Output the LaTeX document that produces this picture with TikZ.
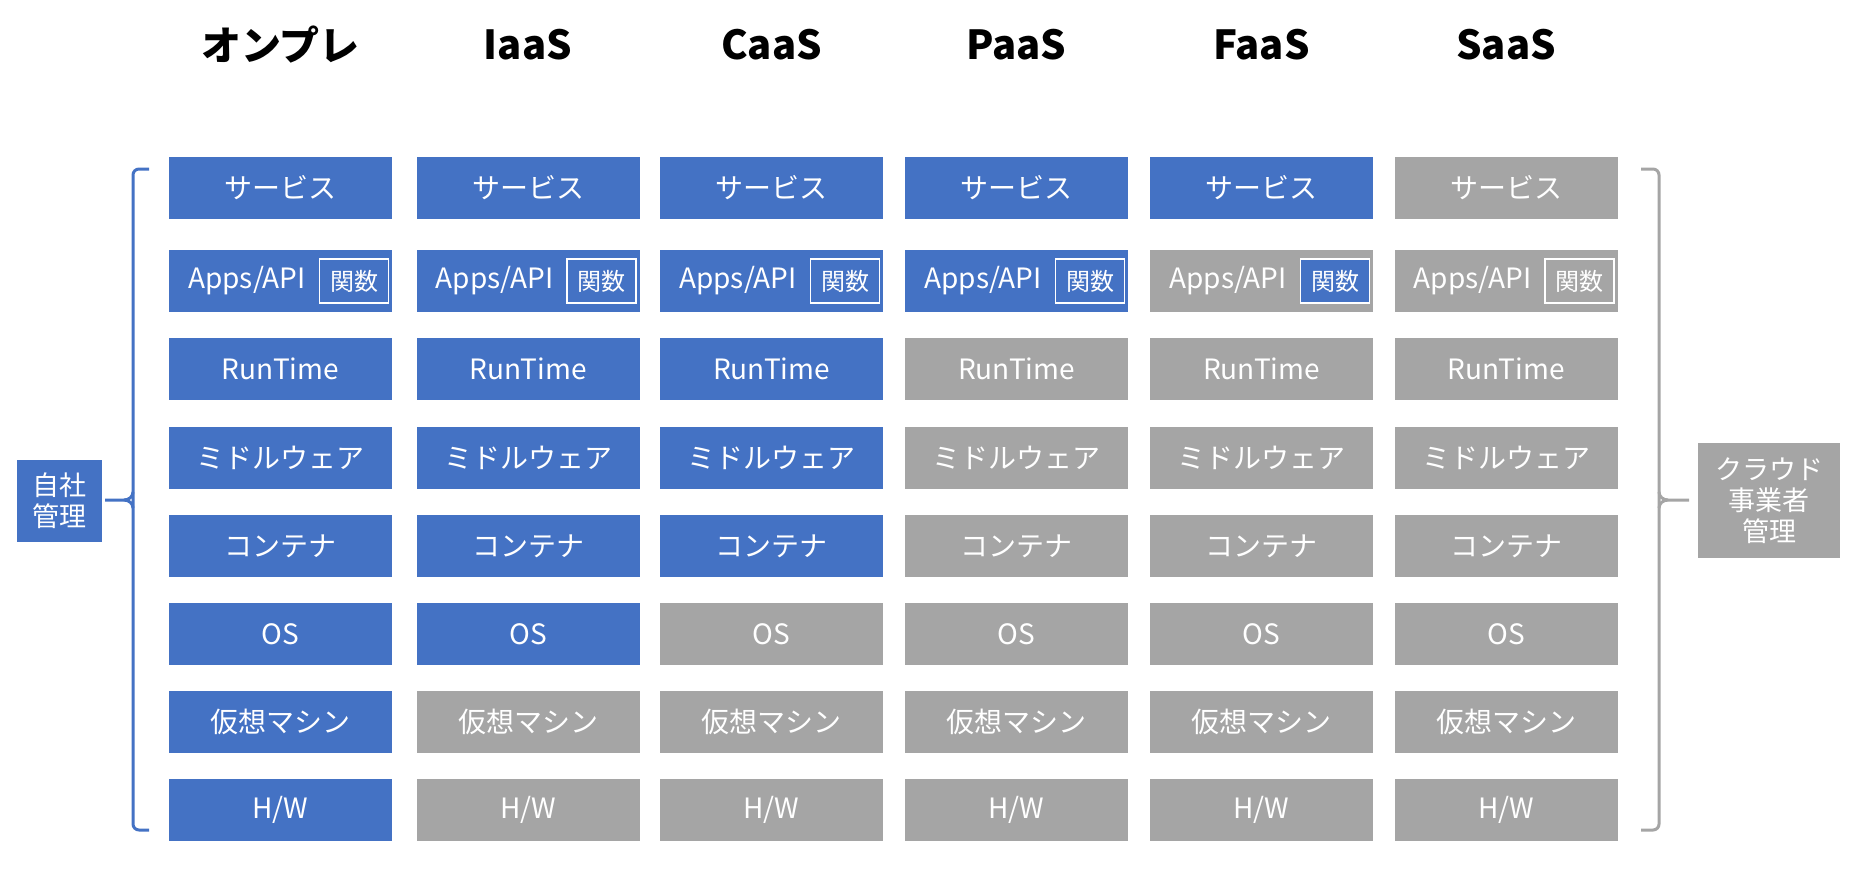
\documentclass[tikz,border=0pt]{standalone}
\usepackage{fontspec}
\setmainfont{Noto Sans CJK JP}
\definecolor{ublue}{HTML}{4472C4}
\definecolor{ugray}{HTML}{A5A5A5}
\begin{document}
\begin{tikzpicture}[x=0.5pt,y=-0.5pt,
  cell/.style={minimum width=111.5pt,minimum height=31pt,inner sep=0pt,text=white,font=\fontsize{14pt}{16pt}\selectfont},
  fnbox/.style={draw=white,line width=0.8pt,minimum width=34.5pt,minimum height=22pt,inner sep=0pt,text=white,font=\fontsize{12pt}{14pt}\selectfont},
  apitext/.style={inner sep=0pt,text=white,font=\fontsize{14pt}{16pt}\selectfont},
  head/.style={inner sep=0pt,font=\fontsize{20pt}{24pt}\selectfont\bfseries},
  side/.style={inner sep=0pt,text=white,align=center,font=\fontsize{13.5pt}{15.5pt}\selectfont},
  brace/.style={line width=1.5pt,rounded corners=3pt}]
\useasboundingbox (0,0) rectangle (1855,868);
% headers
\foreach \t/\x [count=\c] in {オンプレ/280.5,IaaS/528,CaaS/771.5,PaaS/1016.5,FaaS/1261.5,SaaS/1506}{
  \node[head] (h\c) at (\x,45) {\t};
}
% cells
\foreach \n/\x [count=\c] in {8/280.5,6/528,5/771.5,2/1016.5,1/1261.5,0/1506}{
  \foreach \t/\y [count=\r] in {サービス/188,{}/281,RunTime/369,ミドルウェア/458,コンテナ/546,OS/634,仮想マシン/722,{H/W}/810}{
    \ifnum\r>\n \def\col{ugray}\else\def\col{ublue}\fi
    \node[cell,fill=\col] (b\c-\r) at (\x,\y) {\t};
  }
}
% Apps/API row details
\foreach \x [count=\c] in {280.5,528,771.5,1016.5,1261.5,1506}{
  \ifnum\c<6 \def\fcol{ublue}\else\def\fcol{ugray}\fi
  \node[apitext] (api\c) at (\x-33.5,281) {Apps/API};
  \node[fnbox,fill=\fcol] (fn\c) at (\x+73.5,281) {関数};
}
% side labels
\node[side,fill=ublue,minimum width=42.5pt,minimum height=41pt] (L) at (59.5,501) {自社\\管理};
\node[side,fill=ugray,minimum width=71pt,minimum height=57.5pt] (R) at (1769,500.5) {クラウド\\事業者\\管理};
% left brace
\coordinate (ltip) at (105,500);
\draw[brace,ublue] (149,169) -- (133,169) -- (133,830) -- (149,830);
\draw[line width=1.5pt,ublue] (ltip) -- (124,500) to[out=0,in=-90] (133,492);
\draw[line width=1.5pt,ublue] (124,500) to[out=0,in=90] (133,508);
% right brace
\coordinate (rtip) at (1689,500);
\draw[brace,ugray] (1641,169) -- (1659,169) -- (1659,830) -- (1641,830);
\draw[line width=1.5pt,ugray] (rtip) -- (1668,500) to[out=180,in=-90] (1659,492);
\draw[line width=1.5pt,ugray] (1668,500) to[out=180,in=90] (1659,508);
\end{tikzpicture}
\end{document}
